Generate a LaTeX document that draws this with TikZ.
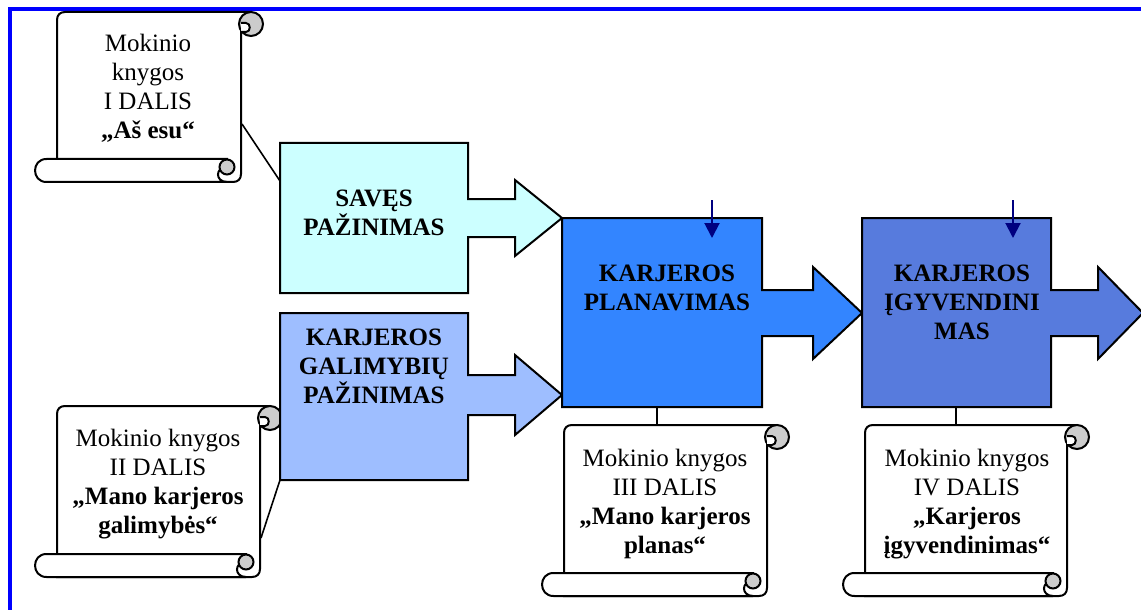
\documentclass[tikz,border=0pt]{standalone}
\usepackage{fontspec}
\setmainfont{Liberation Serif}
\usetikzlibrary{arrows.meta}
\definecolor{saves}{RGB}{204,255,255}
\definecolor{galim}{RGB}{158,190,255}
\definecolor{plan}{RGB}{51,133,255}
\definecolor{igyv}{RGB}{87,123,221}
\definecolor{navy}{RGB}{0,0,128}
\definecolor{frameblue}{RGB}{0,0,255}
\tikzset{scrolltext/.style = {align=center, inner sep=0, font=\fontsize{12.5}{14.5}\selectfont}}
\tikzset{boxtext/.style = {align=center, inner sep=0, font=\fontsize{12.5}{14.5}\selectfont\bfseries}}
\tikzset{link/.style = {line width=0.8pt}}
\tikzset{pointer/.style = {navy, line width=1pt, -{Triangle[length=7.5pt, width=7.5pt]}}}
\newcommand{\scrollsheet}[4]{%
  \draw[fill=white, line width=1pt] (#1,#4+10) -- (#1,#2+8) .. controls (#1,#2+3) and (#1+3,#2) .. (#1+8,#2)
    -- (#3+10,#2) -- (#3+10,#2+20) -- (#3,#2+20) -- (#3,#4+15) .. controls (#3,#4+20) and (#3-3,#4+23) .. (#3-8,#4+23)
    -- (#1,#4+23) -- cycle;
  \draw[fill=white, line width=1pt] (#3-14,#4) -- (#1-10.5,#4) .. controls (#1-25.8,#4) and (#1-25.8,#4+23) .. (#1-10.5,#4+23)
    -- (#3-14,#4+23) .. controls (#3-26,#4+23) and (#3-26,#4+8) .. (#3-14,#4+8) -- cycle;
  \draw[fill=gray!40, line width=1pt] (#3-14,#4+8) circle (7.5);
  \draw[fill=gray!40, line width=1pt] (#3+10,#2+12) circle (12);
  \draw[fill=white, line width=1pt] (#3,#2+11) -- (#3+5,#2+11) .. controls (#3+10,#2+11) and (#3+10,#2+20) .. (#3+5,#2+20) -- (#3,#2+20);
}
\newcommand{\flowbox}[9]{%
  \draw[fill=#1, line width=1pt] (#2,#3) -- (#4,#3) -- (#4,#6-#7) -- (#8,#6-#7) -- (#8,#6-2*#7) -- (#9,#6)
    -- (#8,#6+2*#7) -- (#8,#6+#7) -- (#4,#6+#7) -- (#4,#5) -- (#2,#5) -- cycle;
}

\begin{document}
\begin{tikzpicture}[x=0.5pt, y=-0.5pt]
      \useasboundingbox (0,0) rectangle (1141,610);
      \draw[frameblue, line width=2pt] (10,610) -- (10,9) -- (1141,9);
      \scrollsheet{57}{12}{241}{159}
      \scrollsheet{57}{406}{260}{554}
      \scrollsheet{564}{425}{767}{573}
      \scrollsheet{865}{425}{1067}{573}
      \flowbox{saves}{280}{143}{468}{293}{218}{19}{515}{562}
      \flowbox{galim}{280}{313}{468}{480}{395}{20}{515}{562}
      \flowbox{plan}{562}{218}{762}{407}{313}{23}{813}{862}
      \flowbox{igyv}{862}{218}{1051}{407}{313}{23}{1098}{1143}
      \node [scrolltext] (s1) at (148, 88) {Mokinio\\knygos\\I DALIS\\\textbf{„Aš esu“}};
      \node [scrolltext] (s2) at (158, 484) {Mokinio knygos\\II DALIS\\\textbf{„Mano karjeros}\\\textbf{galimybės“}};
      \node [scrolltext] (s3) at (665, 504) {Mokinio knygos\\III DALIS\\\textbf{„Mano karjeros}\\\textbf{planas“}};
      \node [scrolltext] (s4) at (967, 504) {Mokinio knygos\\IV DALIS\\\textbf{„Karjeros}\\\textbf{įgyvendinimas“}};
      \node [boxtext] (t1) at (374, 213) {SAVĘS\\PAŽINIMAS};
      \node [boxtext] (t2) at (374, 366) {KARJEROS\\GALIMYBIŲ\\PAŽINIMAS};
      \node [boxtext] (t3) at (667, 288) {KARJEROS\\PLANAVIMAS};
      \node [boxtext] (t4) at (962, 302) {KARJEROS\\ĮGYVENDINI\\MAS};
      \coordinate (s1e) at (242, 124);
      \coordinate (b1w) at (280, 181);
      \coordinate (s2e) at (261, 538);
      \coordinate (b2w) at (280, 480);
      \coordinate (b3s) at (657, 407);
      \coordinate (s3n) at (657, 425);
      \coordinate (b4s) at (956, 407);
      \coordinate (s4n) at (956, 425);
      \draw [link] (s1e) -- (b1w);
      \draw [link] (s2e) -- (b2w);
      \draw [link] (b3s) -- (s3n);
      \draw [link] (b4s) -- (s4n);
      \coordinate (p3a) at (712, 200);
      \coordinate (p3b) at (712, 238);
      \coordinate (p4a) at (1013, 200);
      \coordinate (p4b) at (1013, 238);
      \draw [pointer] (p3a) -- (p3b);
      \draw [pointer] (p4a) -- (p4b);
    \end{tikzpicture}
\end{document}
